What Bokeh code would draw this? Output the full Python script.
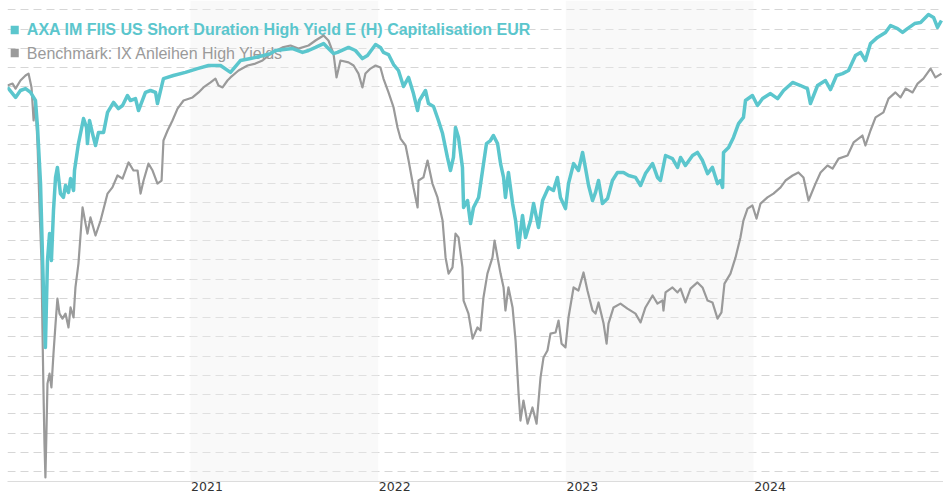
from bokeh.plotting import figure
from bokeh.models import BoxAnnotation, FixedTicker, Label
from bokeh.embed import file_html
from bokeh.resources import INLINE

# time in decimal years, values as indexed performance
fund_t = [2020.025, 2020.068, 2020.094, 2020.121, 2020.148, 2020.164, 2020.174, 2020.185, 2020.201, 2020.211,
          2020.217, 2020.227, 2020.238, 2020.249, 2020.259, 2020.270, 2020.281, 2020.291, 2020.307, 2020.323,
          2020.334, 2020.350, 2020.361, 2020.377, 2020.382, 2020.403, 2020.430, 2020.446, 2020.451, 2020.462,
          2020.478, 2020.494, 2020.510, 2020.537, 2020.558, 2020.590, 2020.616, 2020.638, 2020.664, 2020.680,
          2020.707, 2020.723, 2020.760, 2020.787, 2020.814, 2020.824, 2020.851, 2020.856, 2020.909, 2020.973,
          2021.037, 2021.096, 2021.160, 2021.213, 2021.266, 2021.320, 2021.389, 2021.426, 2021.453, 2021.544,
          2021.597, 2021.629, 2021.666, 2021.709, 2021.735, 2021.762, 2021.783, 2021.842, 2021.879, 2021.916,
          2021.943, 2021.986, 2022.012, 2022.028, 2022.055, 2022.082, 2022.108, 2022.135, 2022.162, 2022.188,
          2022.210, 2022.220, 2022.252, 2022.268, 2022.295, 2022.321, 2022.343, 2022.369, 2022.385, 2022.401,
          2022.412, 2022.428, 2022.449, 2022.455, 2022.476, 2022.492, 2022.508, 2022.535, 2022.556, 2022.577,
          2022.598, 2022.614, 2022.636, 2022.652, 2022.668, 2022.678, 2022.694, 2022.716, 2022.732, 2022.748,
          2022.769, 2022.785, 2022.812, 2022.828, 2022.854, 2022.876, 2022.907, 2022.934, 2022.955, 2022.971,
          2022.998, 2023.014, 2023.041, 2023.067, 2023.089, 2023.105, 2023.121, 2023.142, 2023.158, 2023.174,
          2023.195, 2023.222, 2023.248, 2023.275, 2023.307, 2023.334, 2023.371, 2023.398, 2023.424, 2023.462,
          2023.488, 2023.504, 2023.531, 2023.568, 2023.595, 2023.611, 2023.637, 2023.675, 2023.701, 2023.728,
          2023.755, 2023.781, 2023.808, 2023.824, 2023.835, 2023.840, 2023.867, 2023.893, 2023.920, 2023.946,
          2023.957, 2023.994, 2024.021, 2024.048, 2024.090, 2024.128, 2024.160, 2024.208, 2024.250, 2024.287,
          2024.303, 2024.341, 2024.383, 2024.410, 2024.442, 2024.474, 2024.506, 2024.543, 2024.570, 2024.596,
          2024.623, 2024.660, 2024.703, 2024.730, 2024.767, 2024.794, 2024.820, 2024.858, 2024.890, 2024.932,
          2024.959, 2024.980, 2025.001]
fund_v = [99.97, 99.45, 99.81, 99.91, 99.71, 99.45, 99.29, 97.89, 94.97, 91.33,
          89.25, 86.45, 90.97, 92.37, 90.97, 93.57, 95.29, 95.81, 94.45, 94.25,
          94.87, 94.51, 95.23, 94.61, 95.65, 97.05, 98.35, 97.89, 97.05, 98.25,
          97.57, 96.95, 97.63, 97.63, 98.67, 99.19, 98.87, 99.03, 99.55, 99.29,
          99.39, 98.77, 99.71, 99.81, 99.71, 99.13, 100.23, 100.43, 100.59, 100.75,
          100.95, 101.11, 101.11, 100.75, 101.37, 101.47, 101.63, 101.73, 101.89, 101.99,
          101.79, 101.89, 102.05, 102.25, 101.99, 101.73, 101.79, 102.05, 101.89, 101.47,
          101.63, 102.20, 102.05, 101.79, 101.68, 101.16, 100.85, 100.02, 100.49, 99.65,
          98.77, 99.29, 99.81, 99.13, 98.98, 98.25, 97.57, 96.33, 95.65, 96.33,
          97.89, 97.37, 95.81, 93.73, 94.09, 92.89, 93.73, 94.25, 95.65, 97.05,
          97.21, 97.47, 97.05, 96.01, 95.29, 94.25, 95.55, 93.93, 93.05, 91.65,
          93.31, 92.17, 93.05, 93.93, 92.69, 94.09, 94.77, 94.61, 95.29, 94.25,
          93.67, 94.97, 96.01, 95.65, 96.59, 95.75, 94.87, 94.09, 94.51, 95.13,
          93.93, 94.19, 95.13, 95.55, 95.55, 95.39, 95.29, 94.87, 95.49, 96.01,
          95.29, 95.13, 96.43, 96.27, 95.81, 96.33, 95.91, 96.43, 96.59, 96.17,
          95.49, 95.81, 94.97, 95.13, 94.77, 96.59, 96.85, 97.37, 98.09, 98.41,
          99.29, 99.55, 99.03, 99.39, 99.65, 99.39, 99.81, 100.23, 100.07, 99.91,
          99.13, 100.07, 100.33, 99.86, 100.59, 100.69, 100.85, 101.63, 101.79, 101.37,
          102.25, 102.57, 102.83, 103.19, 103.03, 102.83, 103.03, 103.29, 103.35, 103.76,
          103.61, 103.09, 103.45]

bench_t = [2020.025, 2020.052, 2020.068, 2020.094, 2020.121, 2020.137, 2020.153, 2020.164, 2020.174, 2020.185,
           2020.196, 2020.206, 2020.211, 2020.217, 2020.222, 2020.227, 2020.233, 2020.238, 2020.249, 2020.259,
           2020.270, 2020.281, 2020.291, 2020.302, 2020.318, 2020.334, 2020.350, 2020.361, 2020.377, 2020.387,
           2020.403, 2020.425, 2020.441, 2020.451, 2020.467, 2020.494, 2020.521, 2020.558, 2020.584, 2020.611,
           2020.638, 2020.670, 2020.696, 2020.718, 2020.734, 2020.750, 2020.776, 2020.798, 2020.824, 2020.846,
           2020.856, 2020.878, 2020.904, 2020.931, 2020.963, 2021.011, 2021.043, 2021.069, 2021.107, 2021.133,
           2021.149, 2021.171, 2021.197, 2021.213, 2021.256, 2021.304, 2021.346, 2021.384, 2021.416, 2021.437,
           2021.490, 2021.533, 2021.575, 2021.629, 2021.666, 2021.709, 2021.735, 2021.762, 2021.778, 2021.799,
           2021.842, 2021.869, 2021.895, 2021.916, 2021.932, 2021.959, 2021.986, 2022.012, 2022.028, 2022.055,
           2022.082, 2022.103, 2022.119, 2022.146, 2022.162, 2022.188, 2022.210, 2022.215, 2022.241, 2022.263,
           2022.289, 2022.316, 2022.343, 2022.359, 2022.375, 2022.396, 2022.412, 2022.428, 2022.449, 2022.455,
           2022.481, 2022.503, 2022.529, 2022.545, 2022.561, 2022.582, 2022.609, 2022.620, 2022.636, 2022.652,
           2022.668, 2022.678, 2022.694, 2022.716, 2022.732, 2022.748, 2022.758, 2022.774, 2022.796, 2022.822,
           2022.844, 2022.865, 2022.881, 2022.902, 2022.918, 2022.945, 2022.961, 2022.977, 2022.998, 2023.014,
           2023.041, 2023.067, 2023.094, 2023.115, 2023.142, 2023.158, 2023.174, 2023.201, 2023.217, 2023.227,
           2023.254, 2023.291, 2023.328, 2023.371, 2023.398, 2023.424, 2023.462, 2023.488, 2023.515, 2023.520,
           2023.531, 2023.568, 2023.595, 2023.611, 2023.637, 2023.664, 2023.701, 2023.728, 2023.755, 2023.781,
           2023.808, 2023.829, 2023.845, 2023.877, 2023.904, 2023.930, 2023.946, 2023.968, 2023.994, 2024.016,
           2024.037, 2024.074, 2024.106, 2024.144, 2024.170, 2024.208, 2024.239, 2024.266, 2024.293, 2024.330,
           2024.357, 2024.394, 2024.421, 2024.453, 2024.501, 2024.533, 2024.580, 2024.596, 2024.623, 2024.650,
           2024.692, 2024.719, 2024.756, 2024.783, 2024.810, 2024.847, 2024.874, 2024.905, 2024.943, 2024.969,
           2025.001]
bench_v = [100.07, 100.17, 99.91, 100.33, 100.59, 100.69, 99.97, 98.25, 99.13, 97.05,
           93.57, 90.97, 87.49, 84.05, 81.45, 79.69, 82.29, 84.57, 85.09, 84.37,
           86.13, 87.69, 88.99, 88.21, 87.95, 88.21, 87.49, 88.53, 88.01, 89.57,
           90.81, 93.73, 92.89, 92.37, 93.21, 92.27, 93.05, 94.45, 94.77, 95.39,
           95.23, 96.07, 95.65, 95.65, 94.45, 95.13, 96.01, 95.65, 94.97, 95.13,
           97.21, 97.73, 98.25, 98.87, 99.29, 99.45, 99.71, 99.97, 100.23, 100.43,
           100.07, 99.97, 100.33, 100.49, 100.85, 101.11, 101.21, 101.37, 101.63, 101.79,
           102.05, 102.15, 101.99, 102.15, 102.41, 102.67, 102.41, 101.73, 100.49, 101.37,
           101.27, 101.11, 100.69, 99.97, 100.69, 100.95, 101.11, 101.01, 100.43, 99.71,
           98.93, 97.89, 97.31, 96.95, 96.17, 94.77, 93.73, 95.13, 95.29, 96.17,
           94.97, 94.25, 93.05, 91.13, 90.29, 90.61, 92.37, 92.17, 90.61, 88.89,
           88.21, 86.91, 87.49, 87.33, 89.05, 90.29, 91.13, 92.01, 91.13, 90.29,
           89.57, 88.37, 89.57, 88.53, 86.81, 84.05, 82.65, 83.69, 82.49, 83.33,
           82.49, 84.89, 85.93, 86.29, 87.17, 87.23, 87.85, 86.65, 86.45, 88.01,
           89.57, 89.41, 90.35, 89.41, 88.37, 88.21, 88.79, 87.69, 86.65, 87.69,
           88.53, 88.73, 88.47, 88.21, 87.75, 88.53, 89.15, 88.73, 88.89, 88.37,
           89.31, 89.57, 89.31, 89.51, 88.79, 89.51, 89.83, 89.57, 88.89, 88.79,
           87.95, 88.27, 89.77, 90.29, 91.13, 92.17, 93.05, 93.67, 93.83, 93.15,
           93.93, 94.25, 94.45, 94.77, 95.13, 95.39, 95.55, 95.29, 94.09, 94.97,
           95.55, 95.91, 95.75, 96.27, 96.43, 97.11, 97.47, 96.95, 97.73, 98.41,
           98.67, 99.39, 99.71, 99.45, 99.91, 99.71, 100.17, 100.43, 100.95, 100.49,
           100.69]

year_ticks = [2021, 2022, 2023, 2024]
shaded_years = [2021, 2023]
fund_name = "AXA IM FIIS US Short Duration High Yield E (H) Capitalisation EUR"
bench_name = "Benchmark: IX Anleihen High Yields"

TEAL = "#5bc6cd"
GRAY = "#9a9a9a"

p = figure(width=943, height=500, output_backend="svg", toolbar_location=None,
           x_range=(2020.025, 2025.012), y_range=(79.48, 104.49),
           min_border_left=7, min_border_right=0, min_border_top=0, min_border_bottom=19)
p.outline_line_color = None
p.background_fill_color = "white"
p.border_fill_color = "white"

p.yaxis.visible = False
p.xgrid.grid_line_color = None
p.ygrid.ticker = FixedTicker(ticks=list(range(80, 105)))
p.ygrid.grid_line_color = "#d6d6d6"
p.ygrid.grid_line_dash = "8 5"
p.ygrid.grid_line_width = 1

# year labels sit just right of the start of each year (left-aligned look)
label_shift = 0.088
tick_pos = [y + label_shift for y in year_ticks]
xa = p.xaxis[0]
xa.ticker = FixedTicker(ticks=tick_pos)
xa.major_label_overrides = {t: str(y) for t, y in zip(tick_pos, year_ticks)}
xa.major_label_text_font = "DejaVu Sans"
xa.major_label_text_font_size = "12.5px"
xa.major_label_text_color = "#333333"
xa.major_label_standoff = 0
xa.major_tick_line_color = None
xa.major_tick_out = 0
xa.major_tick_in = 0
xa.minor_tick_line_color = None
xa.axis_line_color = "#dcdcdc"

for yr in shaded_years:
    p.add_layout(BoxAnnotation(left=yr, right=yr + 1, fill_color="#f0f0f0", fill_alpha=0.4,
                               line_color=None, level="underlay"))

p.add_layout(Label(x=2020.128, y=102.96, text=fund_name, text_font="Liberation Sans",
                   text_font_size="16px", text_font_style="bold", text_color=TEAL,
                   text_baseline="middle", level="underlay"))
p.add_layout(Label(x=2020.128, y=101.76, text=bench_name, text_font="Liberation Sans",
                   text_font_size="16px", text_color=GRAY,
                   text_baseline="middle", level="underlay"))
p.add_layout(BoxAnnotation(left=2020.042, right=2020.085, top=103.18, bottom=102.74,
                           fill_color=TEAL, fill_alpha=1, line_color=None, level="underlay"))
p.add_layout(BoxAnnotation(left=2020.042, right=2020.085, top=101.98, bottom=101.54,
                           fill_color=GRAY, fill_alpha=1, line_color=None, level="underlay"))

p.line(bench_t, bench_v, line_color=GRAY, line_width=2.2, line_join="round")
p.line(fund_t, fund_v, line_color=TEAL, line_width=3.5, line_join="round")

open("out.html", "w").write(file_html(p, INLINE))
